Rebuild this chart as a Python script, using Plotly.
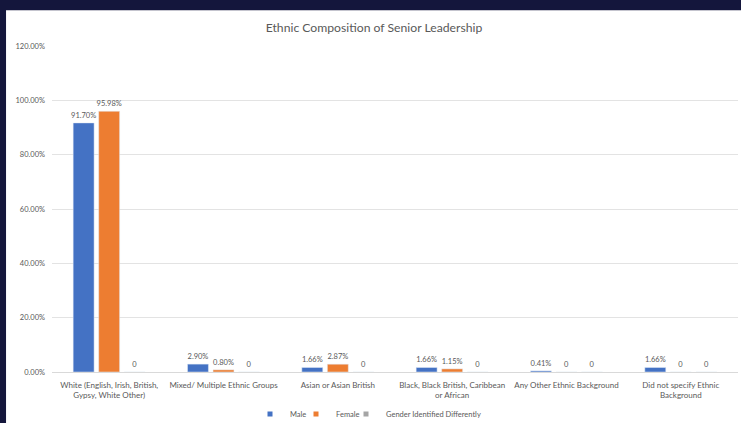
import plotly.graph_objects as go

# Ethnic groups shown along the x axis
categories = [
    "White (English, Irish, British,<br>Gypsy, White Other)",
    "Mixed/ Multiple Ethnic Groups",
    "Asian or Asian British",
    "Black, Black British, Caribbean<br>or African",
    "Any Other Ethnic Background",
    "Did not specify Ethnic<br>Background",
]

# Share of senior leadership (%) by gender
male = [91.70, 2.90, 1.66, 1.66, 0.41, 1.66]
female = [95.98, 0.80, 2.87, 1.15, 0.0, 0.0]
gender_diff = [0.0, 0.0, 0.0, 0.0, 0.0, 0.0]

y_ticks = [0, 20, 40, 60, 80, 100, 120]
y_tick_labels = ["0.00%", "20.00%", "40.00%", "60.00%", "80.00%", "100.00%", "120.00%"]

series = [
    ("Male", male, "#4472C4"),
    ("Female", female, "#ED7D31"),
    ("Gender Identified Differently", gender_diff, "#A5A5A5"),
]

TEXT = "#595959"
FONT = "Lato, 'Open Sans', sans-serif"
NAVY = "#14163c"
W, H = 741, 423


def label(v):
    return "0" if v == 0 else f"{v:.2f}%"


fig = go.Figure()
for name, vals, color in series:
    fig.add_trace(go.Bar(
        x=categories, y=vals, name=name, marker_color=color,
        text=[label(v) for v in vals], textposition="outside",
        constraintext="none",
        textfont=dict(size=7.5, color=TEXT, family=FONT),
        cliponaxis=False, showlegend=False, legendgroup=name,
    ))

# one small legend per series so the keys sit in a tight row
legend_ids = ["legend", "legend2", "legend3"]
legend_left = [250, 296, 346]
for (name, vals, color), lid in zip(series, legend_ids):
    fig.add_trace(go.Scatter(
        x=[None], y=[None], mode="markers", name=name, legendgroup=name,
        legend=lid, marker=dict(symbol="square", size=5, color=color),
    ))

legend_style = dict(orientation="h", xref="container", xanchor="left",
                    y=1 - 414 / H, yref="container", yanchor="middle",
                    font=dict(size=7.5, color=TEXT, family=FONT),
                    itemwidth=30, bgcolor="rgba(0,0,0,0)")

fig.update_layout(
    width=W, height=H,
    margin=dict(l=52, r=3, t=46, b=51, autoexpand=False),
    paper_bgcolor=NAVY,
    plot_bgcolor="rgba(0,0,0,0)",
    barmode="group", bargap=0.33, bargroupgap=0.18,
    title=dict(text="Ethnic Composition of Senior Leadership",
               x=374 / W, xref="container", xanchor="center",
               y=1 - 28 / H, yref="container", yanchor="middle",
               font=dict(size=12.2, color=TEXT, family=FONT)),
    font=dict(family=FONT, color=TEXT, size=7),
    shapes=[dict(type="rect", xref="paper", yref="paper",
                 x0=-0.067, x1=1.02, y0=-0.2, y1=1.110,
                 fillcolor="white", line=dict(width=0), layer="below")],
)
for lid, left in zip(legend_ids, legend_left):
    fig.update_layout({lid: dict(legend_style, x=left / W)})

fig.update_yaxes(range=[0, 120], tickvals=y_ticks, ticktext=y_tick_labels,
                 showgrid=True, gridcolor="#e3e3e3", gridwidth=1,
                 zeroline=False, showline=False, ticks="",
                 ticklabelstandoff=6, automargin=False,
                 tickfont=dict(size=7.5, color=TEXT, family=FONT))
fig.update_xaxes(showline=True, linecolor="#d9d9d9", linewidth=1,
                 ticks="", showgrid=False, tickangle=0,
                 ticklabelstandoff=5, automargin=False,
                 tickfont=dict(size=8, color=TEXT, family=FONT))

fig.write_html("out.html")
